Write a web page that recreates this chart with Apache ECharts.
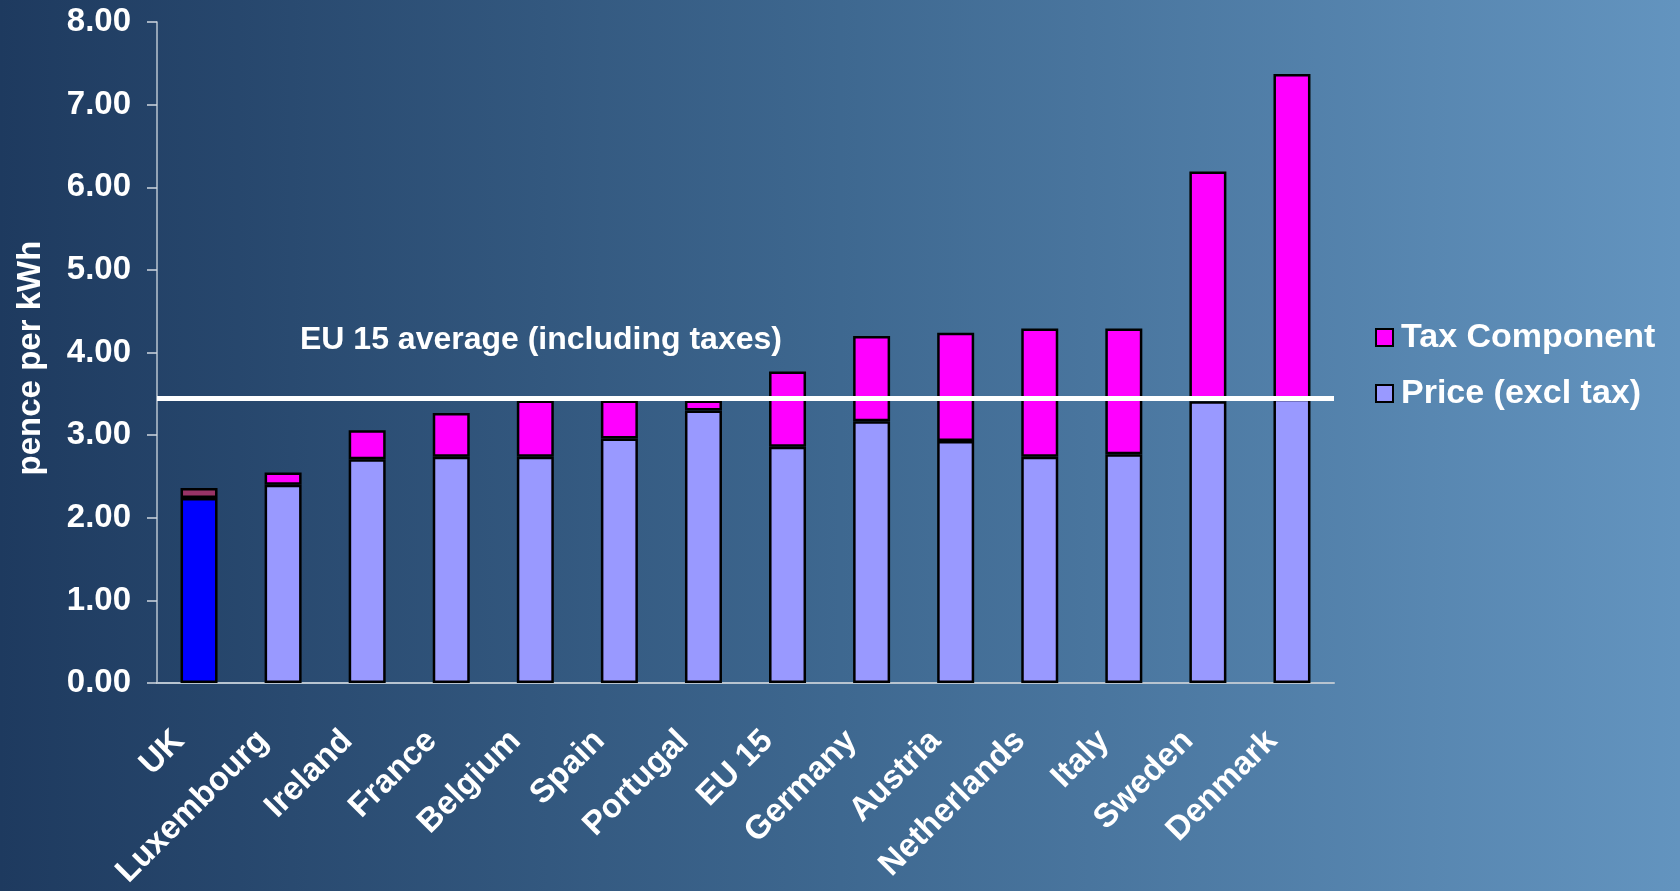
<!DOCTYPE html>
<html>
<head>
<meta charset="utf-8">
<script src="https://cdn.jsdelivr.net/npm/echarts@6/dist/echarts.min.js"></script>
<style>
html,body{margin:0;padding:0;width:1680px;height:891px;overflow:hidden;}
#c{width:1680px;height:891px;}
</style>
</head>
<body>
<div id="c"></div>
<script>
const categories = ['UK','Luxembourg','Ireland','France','Belgium','Spain','Portugal','EU 15','Germany','Austria','Netherlands','Italy','Sweden','Denmark'];
const priceExclTax = [2.24, 2.40, 2.71, 2.74, 2.74, 2.96, 3.30, 2.86, 3.17, 2.93, 2.74, 2.77, 3.41, 3.44];
const taxComponent = [0.12, 0.15, 0.35, 0.53, 0.68, 0.46, 0.12, 0.91, 1.03, 1.31, 1.55, 1.52, 2.78, 3.93];
const eu15Average = 3.45;
const yTicks = [0, 1, 2, 3, 4, 5, 6, 7, 8];

const FONT = "'Liberation Sans', Arial, sans-serif";
const chart = echarts.init(document.getElementById('c'));

const priceData = priceExclTax.map((v, i) => i === 0 ? {value: v, itemStyle: {color: '#0000ff'}} : v);
const taxData = taxComponent.map((v, i) => i === 0 ? {value: v, itemStyle: {color: '#993366'}} : v);

chart.setOption({
  animation: false,
  backgroundColor: {
    type: 'linear', x: 0, y: 0, x2: 1, y2: 0,
    colorStops: [{offset: 0, color: '#1e3a5f'}, {offset: 0.5, color: '#3e6890'}, {offset: 1, color: '#6394bf'}]
  },
  title: {
    text: 'EU 15 average (including taxes)',
    left: 295, top: 319,
    textStyle: {color: '#ffffff', fontFamily: FONT, fontWeight: 'bold', fontSize: 32}
  },
  legend: {
    orient: 'vertical',
    left: 1370, top: 315,
    itemWidth: 17, itemHeight: 17, itemGap: 21,
    icon: 'rect',
    data: ['Tax Component', 'Price (excl tax)'],
    textStyle: {color: '#ffffff', fontFamily: FONT, fontWeight: 'bold', fontSize: 34, lineHeight: 35, padding: [0,0,0,3]}
  },
  grid: {left: 157, right: 346, top: 22, bottom: 202, containLabel: false},
  xAxis: {
    type: 'category',
    data: categories,
    axisLine: {lineStyle: {color: '#b8c4d0', width: 2}},
    axisTick: {lineStyle: {color: '#d0d8e0', width: 1.5}, length: 10},
    axisLabel: {
      rotate: 45, margin: 33, interval: 0,
      padding: [0, 28, 0, 0],
      color: '#ffffff', fontFamily: FONT, fontWeight: 'bold', fontSize: 33
    }
  },
  yAxis: {
    type: 'value',
    min: 0, max: 8, interval: 1,
    name: 'pence per kWh',
    nameLocation: 'middle',
    nameGap: 110,
    nameTextStyle: {color: '#ffffff', fontFamily: FONT, fontWeight: 'bold', fontSize: 33, padding: [0, 11, 0, 0]},
    axisLine: {show: true, lineStyle: {color: '#b8c4d0', width: 1.5}},
    axisTick: {show: true, lineStyle: {color: '#d0d8e0', width: 1.5}, length: 10},
    splitLine: {show: false},
    axisLabel: {
      margin: 26,
      color: '#ffffff', fontFamily: FONT, fontWeight: 'bold', fontSize: 33,
      formatter: v => yTicks.includes(v) ? v.toFixed(2) : ''
    }
  },
  series: [
    {
      name: 'Price (excl tax)',
      type: 'bar', stack: 'total',
      barWidth: '44%',
      data: priceData,
      itemStyle: {color: '#9999ff', borderColor: '#000000', borderWidth: 2.5}
    },
    {
      name: 'Tax Component',
      type: 'bar', stack: 'total',
      barWidth: '44%',
      data: taxData,
      itemStyle: {color: '#ff00ff', borderColor: '#000000', borderWidth: 2.5},
      markLine: {
        silent: true,
        symbol: 'none',
        label: {show: false},
        lineStyle: {color: '#ffffff', width: 5, type: 'solid'},
        data: [{yAxis: eu15Average}],
        z: 10
      }
    }
  ]
});
</script>
</body>
</html>
